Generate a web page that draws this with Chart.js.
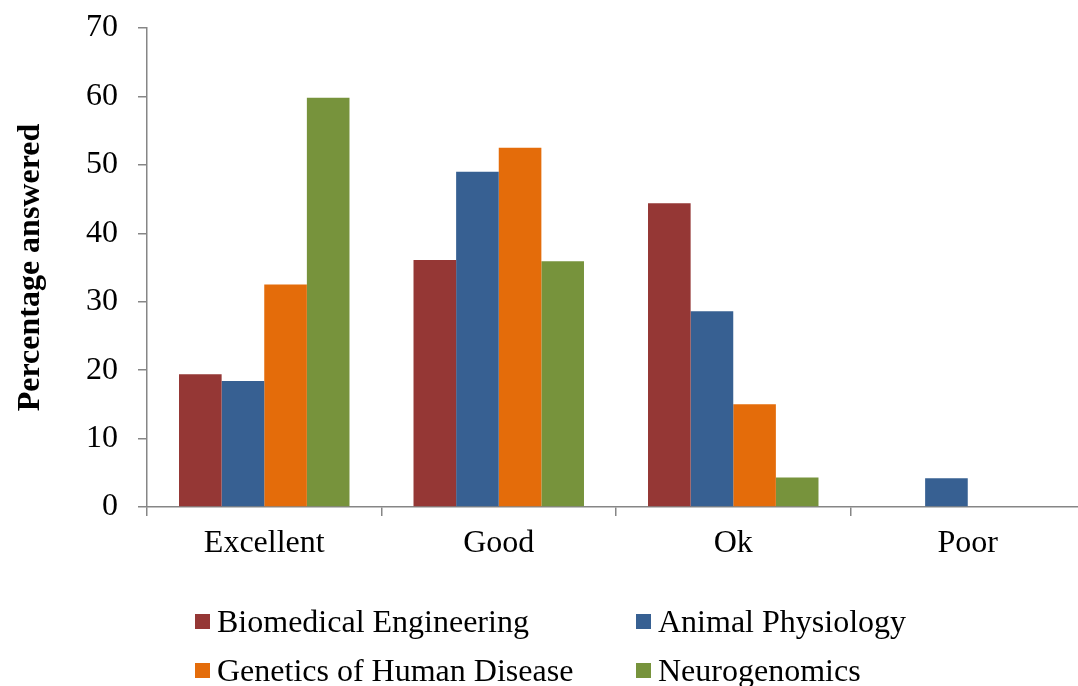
<!DOCTYPE html>
<html>
<head>
<meta charset="utf-8">
<script src="https://cdn.jsdelivr.net/npm/chart.js@4"></script>
<style>
  html, body { margin: 0; padding: 0; background: #fff; overflow: hidden; }
  #wrap { position: relative; width: 1078px; height: 686px; overflow: hidden; }
  canvas { position: absolute; left: 0; top: 0; }
  .leg { position: absolute; display: flex; align-items: center; font-family: "Liberation Serif", "Times New Roman", serif; font-size: 32px; color: #000; white-space: nowrap; }
  .leg span.box { display: inline-block; width: 15px; height: 15px; margin-right: 7px; }
</style>
</head>
<body>
<div id="wrap">
  <canvas id="chart" width="1090" height="686"></canvas>
</div>
<script>
const categories = ['Excellent', 'Good', 'Ok', 'Poor'];
const seriesNames = ['Biomedical Engineering', 'Animal Physiology', 'Genetics of Human Disease', 'Neurogenomics'];
const seriesColors = ['#953735', '#376092', '#E46C0A', '#77933C'];
const biomedical = [19.4, 36.1, 44.4, 0];
const animalPhys = [18.4, 49.0, 28.6, 4.2];
const genetics = [32.5, 52.5, 15.0, 0];
const neurogenomics = [59.8, 35.9, 4.3, 0];
const seriesValues = [biomedical, animalPhys, genetics, neurogenomics];

const fontFamily = '"Liberation Serif", "Times New Roman", serif';
const axisGrey = '#868686';

// legend in two columns, like the original
const legendPos = [[195, 621], [636, 621], [195, 670], [636, 670]];
seriesNames.forEach((name, i) => {
    const el = document.createElement('div');
    el.className = 'leg';
    el.style.left = legendPos[i][0] + 'px';
    el.style.top = (legendPos[i][1] - 20) + 'px';
    el.style.height = '40px';
    const box = document.createElement('span');
    box.className = 'box';
    box.style.background = seriesColors[i];
    const txt = document.createElement('span');
    txt.textContent = name;
    el.appendChild(box);
    el.appendChild(txt);
    document.getElementById('wrap').appendChild(el);
});

const ctx = document.getElementById('chart').getContext('2d');
new Chart(ctx, {
    type: 'bar',
    data: {
        labels: categories,
        datasets: seriesNames.map((name, i) => ({
            label: name,
            data: seriesValues[i],
            backgroundColor: seriesColors[i],
            borderWidth: 0,
            categoryPercentage: 0.727,
            barPercentage: 1.0
        }))
    },
    options: {
        responsive: false,
        animation: false,
        layout: { padding: { top: 28, right: 5, left: 0, bottom: 0 } },
        plugins: {
            legend: { display: false },
            tooltip: { enabled: false }
        },
        scales: {
            x: {
                grid: {
                    drawOnChartArea: false,
                    drawTicks: true,
                    tickLength: 9,
                    color: axisGrey,
                    lineWidth: 1.5
                },
                border: { display: true, color: axisGrey, width: 1.5 },
                ticks: {
                    color: '#000',
                    padding: 8,
                    font: { family: fontFamily, size: 32 }
                },
                afterFit: (scale) => {
                    scale.height = 686 - 507;
                    scale.paddingLeft = 0;
                    scale.paddingRight = 0;
                }
            },
            y: {
                min: 0,
                max: 70,
                grid: {
                    drawOnChartArea: false,
                    drawTicks: true,
                    tickLength: 9,
                    color: axisGrey,
                    lineWidth: 1.5
                },
                border: { display: true, color: axisGrey, width: 1.5 },
                ticks: {
                    stepSize: 10,
                    color: '#000',
                    padding: 20,
                    font: { family: fontFamily, size: 32 }
                },
                title: {
                    display: true,
                    text: 'Percentage answered',
                    color: '#000',
                    padding: { top: 12, bottom: 0 },
                    font: { family: fontFamily, size: 32, weight: 'bold' }
                },
                afterFit: (scale) => {
                    scale.width = 147;
                    scale.paddingTop = 0;
                    scale.paddingBottom = 0;
                }
            }
        }
    }
});
</script>
</body>
</html>
